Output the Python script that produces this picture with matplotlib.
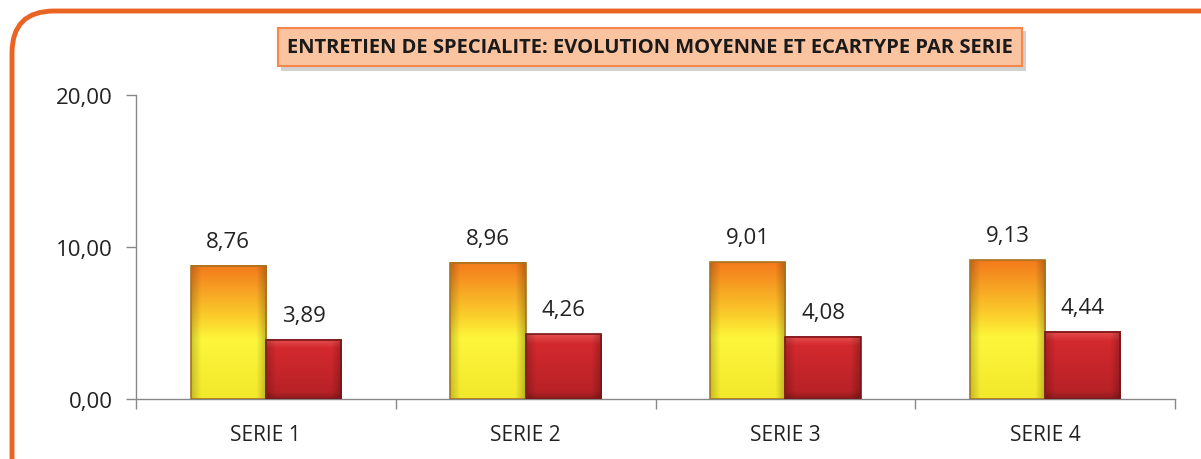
import numpy as np
import matplotlib.pyplot as plt
from matplotlib.patches import FancyBboxPatch, Rectangle
from matplotlib.colors import LinearSegmentedColormap

categories = ["SERIE 1", "SERIE 2", "SERIE 3", "SERIE 4"]
moyenne = [8.76, 8.96, 9.01, 9.13]
ecartype = [3.89, 4.26, 4.08, 4.44]
yticks = [0, 10, 20]
title = "ENTRETIEN DE SPECIALITE: EVOLUTION MOYENNE ET ECARTYPE PAR SERIE"

plt.rcParams['font.family'] = ['Open Sans', 'DejaVu Sans']

fig = plt.figure(figsize=(12.01, 4.6), dpi=100)
ax = fig.add_axes([136/1201, 1-400/460, (1175-136)/1201, (400-96)/460])

# degrades (bas -> haut)
cm_orange = LinearSegmentedColormap.from_list(
    "o", [(0, "#f2e82c"), (0.45, "#fdf63a"), (0.6, "#fbd02c"), (1, "#f3791c")])
cm_red = LinearSegmentedColormap.from_list(
    "r", [(0, "#8e1a1c"), (0.12, "#b82227"), (0.85, "#d3292e"), (1, "#e65050")])
cm_side = LinearSegmentedColormap.from_list(
    "s", [(0, (0, 0, 0, 0.18)), (0.12, (0, 0, 0, 0)), (0.88, (0, 0, 0, 0)), (1, (0, 0, 0, 0.22))])

w = 0.29
x = np.arange(len(categories))
grad = np.linspace(0, 1, 256).reshape(-1, 1)

def gbar(x0, h, cmap, edge):
    ax.imshow(grad, cmap=cmap, origin="lower", aspect="auto",
              extent=[x0, x0 + w, 0, h], zorder=2)
    # petit relief sur les cotes
    ax.imshow(np.linspace(0, 1, 32).reshape(1, -1), cmap=cm_side,
              aspect="auto", extent=[x0, x0 + w, 0, h], zorder=2.5)
    ax.add_patch(Rectangle((x0, 0), w, h, fill=False, edgecolor=edge, lw=1.2, zorder=3))

def fmt(v):
    return f"{v:.2f}".replace(".", ",")

for i in range(len(categories)):
    gbar(x[i] - w, moyenne[i], cm_orange, "#a8741e")
    gbar(x[i], ecartype[i], cm_red, "#7a1618")
    ax.annotate(fmt(moyenne[i]), (x[i] - w/2, moyenne[i]),
                xytext=(0, 10), textcoords="offset points", ha="center", va="bottom",
                fontsize=16, color="#222222")
    ax.annotate(fmt(ecartype[i]), (x[i] + w/2, ecartype[i]),
                xytext=(0, 10), textcoords="offset points", ha="center", va="bottom",
                fontsize=16, color="#222222")

ax.set_xlim(-0.5, len(categories) - 0.5)
ax.set_ylim(0, 20)
ax.set_yticks(yticks)
ax.set_yticklabels([fmt(v) for v in yticks], fontsize=16, color="#222222")
ax.set_xticks(x)
ax.set_xticklabels(categories, fontsize=15, color="#222222")
ax.set_xticks(np.arange(len(categories) + 1) - 0.5, minor=True)
ax.tick_params(axis="x", which="major", length=0, pad=18)
ax.tick_params(axis="x", which="minor", length=7, color="#888888", width=1)
ax.tick_params(axis="y", length=7, color="#888888", width=1, pad=10)
for s in ["top", "right"]:
    ax.spines[s].set_visible(False)
for s in ["left", "bottom"]:
    ax.spines[s].set_color("#888888")
    ax.spines[s].set_linewidth(1)

# ombre du cadre de titre
fig.patches.append(Rectangle((281/1201, 1-72/460), 745/1201, 40/460,
                             transform=fig.transFigure, facecolor="#000000",
                             alpha=0.18, edgecolor="none"))
# titre dans un cadre
fig.text(650/1201, 1-48/460, title, ha="center", va="center", fontsize=14.5,
         fontweight="bold", color="#1a1a1a",
         bbox=dict(boxstyle="square,pad=0.45", facecolor="#fbc4a0", edgecolor="#f5874a", lw=1.5))

# cadre arrondi orange (coupe a droite et en bas)
frame = FancyBboxPatch((12/1201, -40/460), 1240/1201, 488/460,
                       boxstyle="round,pad=0,rounding_size=0.035",
                       transform=fig.transFigure, fill=False,
                       edgecolor="#ea6424", lw=3.5, mutation_aspect=1201/460)
fig.patches.append(frame)

fig.savefig("out.png", dpi=100)
